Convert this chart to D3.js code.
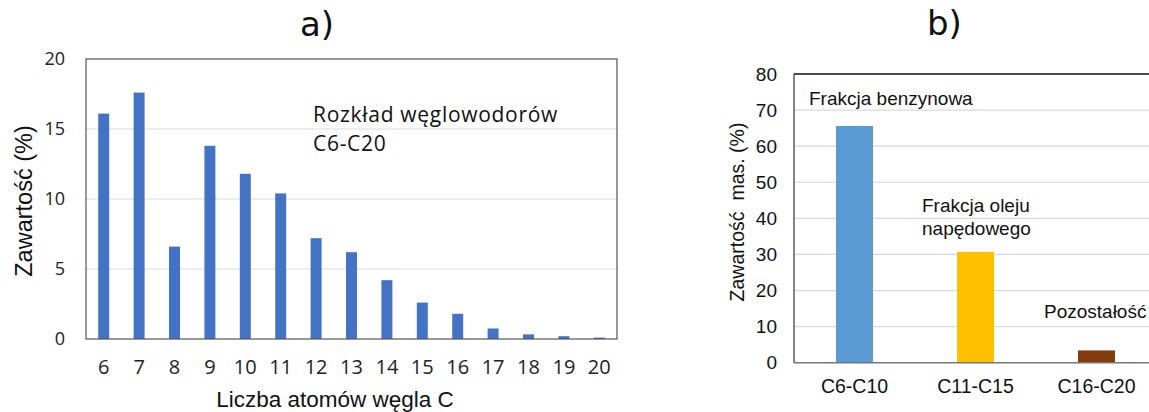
<!DOCTYPE html>
<html>
<head>
<meta charset="utf-8">
<script src="https://cdn.jsdelivr.net/npm/d3@7"></script>
<style>
  html, body { margin: 0; padding: 0; background: #fff; }
  svg { display: block; }
</style>
</head>
<body>
<svg id="chart" width="1149" height="412"></svg>
<script>
// ---------- Data ----------
const carbonNumbers = [6, 7, 8, 9, 10, 11, 12, 13, 14, 15, 16, 17, 18, 19, 20];
const carbonContent = [16.1, 17.6, 6.6, 13.8, 11.8, 10.4, 7.2, 6.2, 4.2, 2.6, 1.8, 0.75, 0.33, 0.2, 0.1];
const yTicksA = [0, 5, 10, 15, 20];

const fractions = ["C6-C10", "C11-C15", "C16-C20"];
const fractionContent = [65.6, 30.7, 3.4];
const fractionColors = ["#5B9BD5", "#FFC000", "#843C0C"];
const yTicksB = [0, 10, 20, 30, 40, 50, 60, 70, 80];

const svg = d3.select("#chart");

// ---------- Chart a ----------
const A = { left: 86, right: 617, top: 59, bottom: 339 };
const xA = d3.scaleBand().domain(carbonNumbers).range([A.left, A.right]).paddingInner(0.69).paddingOuter(0.345);
const yA = d3.scaleLinear().domain([0, 20]).range([A.bottom, A.top]);

const gA = svg.append("g");
// gridlines
gA.append("g").selectAll("line").data(yTicksA.filter(d => d > 0 && d < 20)).join("line")
  .attr("x1", A.left).attr("x2", A.right)
  .attr("y1", d => yA(d)).attr("y2", d => yA(d))
  .attr("stroke", "#DCDCDC").attr("stroke-width", 1.2);
// bars
gA.append("g").selectAll("rect").data(carbonNumbers).join("rect")
  .attr("x", d => xA(d)).attr("width", xA.bandwidth())
  .attr("y", (d, i) => yA(carbonContent[i]))
  .attr("height", (d, i) => yA(0) - yA(carbonContent[i]))
  .attr("fill", "#4472C4");
// frame
gA.append("rect").attr("x", A.left).attr("y", A.top)
  .attr("width", A.right - A.left).attr("height", A.bottom - A.top)
  .attr("fill", "none").attr("stroke", "#555").attr("stroke-width", 1.2);
// y axis labels
const yAxisA = gA.append("g").attr("transform", `translate(${A.left},0)`)
  .call(d3.axisLeft(yA).tickValues(yTicksA).tickSize(0).tickPadding(21));
yAxisA.select(".domain").remove();
yAxisA.selectAll("text").attr("font-family", "Open Sans").attr("font-size", 18).attr("fill", "#222");
// x axis labels
const xAxisA = gA.append("g").attr("transform", `translate(0,${A.bottom})`)
  .call(d3.axisBottom(xA).tickSize(0).tickPadding(21));
xAxisA.select(".domain").remove();
xAxisA.selectAll("text").attr("font-family", "Open Sans").attr("font-size", 20).attr("fill", "#222");
// titles
gA.append("text").attr("x", 335).attr("y", 407).attr("text-anchor", "middle")
  .attr("font-family", "Liberation Sans, Arial").attr("font-size", 22.5).attr("fill", "#111")
  .text("Liczba atomów węgla C");
gA.append("text").attr("transform", "translate(32,201) rotate(-90)").attr("text-anchor", "middle")
  .attr("font-family", "Liberation Sans, Arial").attr("font-size", 23.5).attr("fill", "#111")
  .text("Zawartość (%)");
gA.append("text").attr("x", 313).attr("y", 122)
  .attr("font-family", "Open Sans").attr("font-size", 21).attr("letter-spacing", 0.7).attr("fill", "#111")
  .text("Rozkład węglowodorów");
gA.append("text").attr("x", 313).attr("y", 151)
  .attr("font-family", "Open Sans").attr("font-size", 21).attr("letter-spacing", 0.7).attr("fill", "#111")
  .text("C6-C20");
gA.append("text").attr("x", 300).attr("y", 36)
  .attr("font-family", "DejaVu Sans").attr("font-size", 34).attr("fill", "#111")
  .text("a)");

// ---------- Chart b ----------
const B = { left: 794, right: 1157, top: 74, bottom: 362.7 };
const xB = d3.scaleBand().domain(fractions).range([B.left, B.right]).paddingInner(0.694).paddingOuter(0.347);
const yB = d3.scaleLinear().domain([0, 80]).range([B.bottom, B.top]);

const gB = svg.append("g");
gB.append("g").selectAll("line").data(yTicksB.filter(d => d > 0 && d < 80)).join("line")
  .attr("x1", B.left).attr("x2", B.right)
  .attr("y1", d => yB(d)).attr("y2", d => yB(d))
  .attr("stroke", "#D9D9D9").attr("stroke-width", 1.2);
gB.append("g").selectAll("rect").data(fractions).join("rect")
  .attr("x", d => xB(d)).attr("width", xB.bandwidth())
  .attr("y", (d, i) => yB(fractionContent[i]))
  .attr("height", (d, i) => yB(0) - yB(fractionContent[i]))
  .attr("fill", (d, i) => fractionColors[i]);
// top border
gB.append("line").attr("x1", B.left).attr("x2", B.right).attr("y1", B.top).attr("y2", B.top)
  .attr("stroke", "#111").attr("stroke-width", 1.6);
// left axis line
gB.append("line").attr("x1", B.left).attr("x2", B.left).attr("y1", B.top).attr("y2", B.bottom)
  .attr("stroke", "#333").attr("stroke-width", 1.2);
// bottom axis line
gB.append("line").attr("x1", B.left).attr("x2", B.right).attr("y1", B.bottom).attr("y2", B.bottom)
  .attr("stroke", "#777").attr("stroke-width", 1.4);
const yAxisB = gB.append("g").attr("transform", `translate(${B.left},0)`)
  .call(d3.axisLeft(yB).tickValues(yTicksB).tickSize(0).tickPadding(17));
yAxisB.select(".domain").remove();
yAxisB.selectAll("text").attr("font-family", "Liberation Sans, Arial").attr("font-size", 19).attr("fill", "#111");
const xAxisB = gB.append("g").attr("transform", `translate(0,${B.bottom})`)
  .call(d3.axisBottom(xB).tickSize(0).tickPadding(16));
xAxisB.select(".domain").remove();
xAxisB.selectAll("text").attr("font-family", "Liberation Sans, Arial").attr("font-size", 19.5).attr("fill", "#111");

gB.append("text").attr("transform", "translate(744,212) rotate(-90)").attr("text-anchor", "middle")
  .attr("font-family", "Liberation Sans, Arial").attr("font-size", 19.5).attr("fill", "#111")
  .style("white-space", "pre")
  .text("Zawartość  mas. (%)");
const annB = [
  { t: "Frakcja benzynowa", x: 809, y: 105 },
  { t: "Frakcja oleju", x: 922, y: 212 },
  { t: "napędowego", x: 922, y: 235 },
  { t: "Pozostałość", x: 1044, y: 318 }
];
gB.append("g").selectAll("text").data(annB).join("text")
  .attr("x", d => d.x).attr("y", d => d.y)
  .attr("font-family", "Liberation Sans, Arial").attr("font-size", 19).attr("fill", "#111")
  .text(d => d.t);
gB.append("text").attr("x", 927).attr("y", 35)
  .attr("font-family", "DejaVu Sans").attr("font-size", 34).attr("fill", "#111")
  .text("b)");
</script>
</body>
</html>
